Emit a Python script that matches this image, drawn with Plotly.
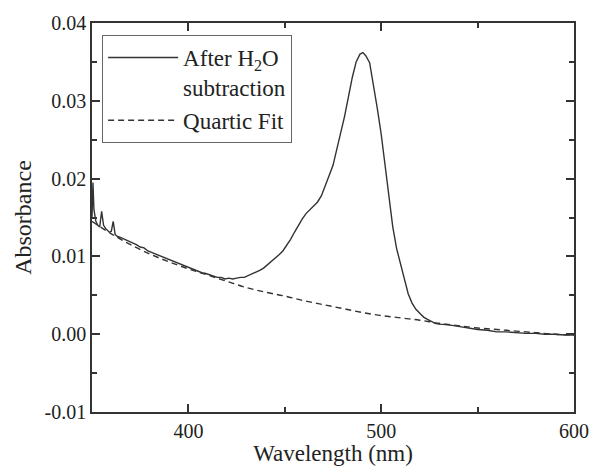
import plotly.graph_objects as go

# measured spectrum after water subtraction
wavelength = [
    350.0, 350.5, 351.0, 352.0, 353.0, 354.0, 355.0, 356.0, 357.0, 358.0,
    359.0, 360.0, 361.0, 362.0, 363.0, 365, 367, 369, 371, 373,
    375, 377, 379, 381, 383, 385, 387, 389, 391, 393,
    395, 397, 399, 401, 403, 405, 407, 409, 411, 413,
    415, 417, 419, 421, 423, 425, 427, 429, 431, 433,
    435, 437, 439, 441, 443, 445, 447, 449, 451, 453,
    455, 457, 459, 461, 463, 465, 467, 469, 471, 473,
    475, 477, 479, 481, 483, 485, 487, 489, 490.5, 492,
    494, 496, 498, 500, 502, 504, 506, 508, 510, 512,
    514, 516, 518, 520, 522, 524, 526, 528, 530, 535,
    540, 545, 550, 555, 560, 565, 570, 575, 580, 585,
    590, 595, 600,
]
absorbance = [
    0.0150, 0.0195, 0.0160, 0.0145, 0.0140, 0.0138, 0.0158, 0.0140, 0.0136, 0.0133,
    0.0131, 0.0132, 0.0145, 0.0128, 0.0126, 0.0124, 0.0122, 0.0120, 0.0117, 0.0115,
    0.0112, 0.0111, 0.0107, 0.0105, 0.0102, 0.0100, 0.0099, 0.0096, 0.0094, 0.0092,
    0.0090, 0.0088, 0.0086, 0.0084, 0.0083, 0.0081, 0.0079, 0.0078, 0.0076, 0.0075,
    0.0073, 0.0073, 0.0071, 0.0072, 0.0071, 0.0072, 0.0073, 0.0073, 0.0075, 0.0077,
    0.0079, 0.0082, 0.0085, 0.0089, 0.0093, 0.0097, 0.0102, 0.0107, 0.0114, 0.0122,
    0.0131, 0.0140, 0.0148, 0.0155, 0.0160, 0.0164, 0.0170, 0.0178, 0.0190, 0.0204,
    0.0217, 0.0238, 0.0258, 0.0280, 0.0305, 0.0330, 0.0350, 0.0360, 0.0362, 0.0358,
    0.0349, 0.0322, 0.0290, 0.0257, 0.0219, 0.0180, 0.0138, 0.0110, 0.0090, 0.0070,
    0.0052, 0.0040, 0.0032, 0.0027, 0.0022, 0.0019, 0.0016, 0.0014, 0.0013, 0.0012,
    0.0010, 0.0008, 0.0006, 0.0005, 0.0003, 0.0003, 0.0002, 0.0001, 0.0001, 0.0000,
    -0.0000, -0.0001, -0.0001,
]

# quartic baseline fit
fit_wavelength = [
    350, 360, 370, 380, 390, 400, 410, 420, 430, 440, 450, 460, 470,
    480, 490, 500, 510, 520, 530, 540, 550, 560, 570, 580, 590, 600,
]
fit_absorbance = [
    0.0145, 0.0129, 0.0115, 0.0103, 0.0093, 0.0084, 0.0076, 0.0068, 0.0060,
    0.0054, 0.0049, 0.0043, 0.0038, 0.0033, 0.0028, 0.0024, 0.0021, 0.0018,
    0.0014, 0.0011, 0.0008, 0.0006, 0.0004, 0.0002, 0.0000, -0.0001,
]

y_tickvals = [-0.01, 0.0, 0.01, 0.02, 0.03, 0.04]
y_ticktext = ["-0.01", "0.00", "0.01", "0.02", "0.03", "0.04"]
x_tickvals = [400, 500, 600]
x_ticktext = ["400", "500", "600"]

line_color = "#333333"
text_color = "#222222"
font_family = "Liberation Serif"

fig = go.Figure()
fig.add_trace(
    go.Scatter(
        x=wavelength,
        y=absorbance,
        mode="lines",
        name="After H<sub>2</sub>O<br>subtraction",
        line=dict(color=line_color, width=1.4),
    )
)
fig.add_trace(
    go.Scatter(
        x=fit_wavelength,
        y=fit_absorbance,
        mode="lines",
        name="Quartic Fit",
        line=dict(color=line_color, width=1.4, dash="6px,4px", shape="spline"),
    )
)

axis_common = dict(
    showgrid=False,
    zeroline=False,
    showline=True,
    linecolor=line_color,
    linewidth=1.5,
    mirror="ticks",
    ticks="inside",
    ticklen=8,
    tickwidth=1.5,
    tickcolor=line_color,
    tickfont=dict(family=font_family, size=20, color=text_color),
)

fig.update_xaxes(
    range=[350, 600],
    tickmode="array",
    tickvals=x_tickvals,
    ticktext=x_ticktext,
    minor=dict(dtick=50, tick0=350, ticks="inside", ticklen=5, tickwidth=1.5,
               tickcolor=line_color),
    title=dict(text="Wavelength (nm)",
               font=dict(family=font_family, size=23, color=text_color),
               standoff=2),
    **axis_common,
)
fig.update_yaxes(
    range=[-0.01, 0.04],
    tickmode="array",
    tickvals=y_tickvals,
    ticktext=y_ticktext,
    minor=dict(dtick=0.005, tick0=0, ticks="inside", ticklen=5, tickwidth=1.5,
               tickcolor=line_color),
    title=dict(text="Absorbance",
               font=dict(family=font_family, size=24, color=text_color),
               standoff=6),
    **axis_common,
)

fig.update_layout(
    width=592,
    height=466,
    margin=dict(l=92, r=18, t=23, b=54, autoexpand=False),
    plot_bgcolor="white",
    paper_bgcolor="white",
    font=dict(family=font_family, color=text_color),
    showlegend=True,
    legend=dict(
        x=0.021,
        y=0.969,
        xanchor="left",
        yanchor="top",
        bgcolor="white",
        bordercolor="#666666",
        borderwidth=1,
        font=dict(family=font_family, size=23, color=text_color),
        valign="top",
        itemwidth=70,
        tracegroupgap=0,
    ),
)

fig.write_html(
    "out.html",
    config={"displayModeBar": False},
    post_script="document.body.style.margin='0';",
)
